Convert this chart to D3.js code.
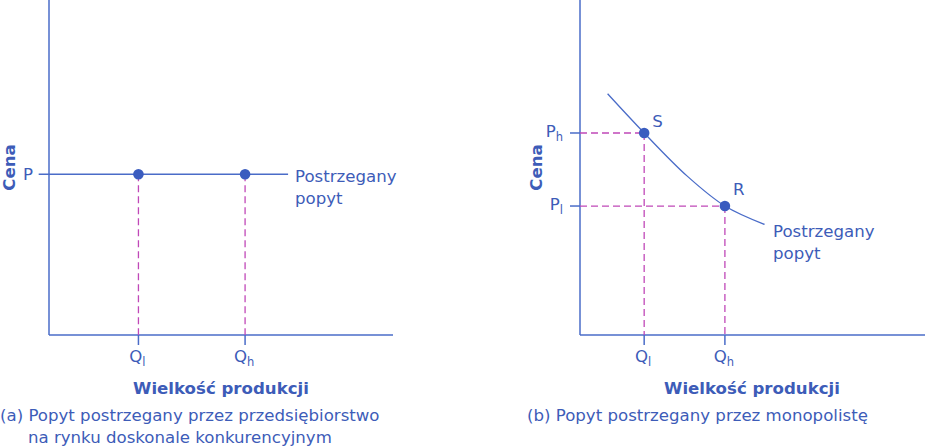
<!DOCTYPE html>
<html><head><meta charset="utf-8">
<script src="https://cdn.jsdelivr.net/npm/d3@7"></script>
<style>body{margin:0;background:#fff}svg{display:block}text{font-family:"DejaVu Sans",sans-serif}</style>
</head><body>
<svg id="c" width="925" height="447"></svg>
<script>
// Panel (a): perfect competition
const aPrice = 4.8;
const aQuantities = [{name:"l", q:2.6},{name:"h", q:5.7}];
const aLine = [-0.3, 6.95];
// Panel (b): monopoly
const bPoints = [{name:"S", q:1.86, p:6.03, pl:"h", ql:"l"},{name:"R", q:4.2, p:3.85, pl:"l", ql:"h"}];
const bCurve = [[0.8,7.2],[1.86,6.03],[3.1,4.75],[4.2,3.85],[5.35,3.3]];
const labels = {y:"Cena", x:"Wielkość produkcji", demand:["Postrzegany","popyt"],
  capA:["(a) Popyt postrzegany przez przedsiębiorstwo","na rynku doskonale konkurencyjnym"],
  capB:["(b) Popyt postrzegany przez monopolistę"]};

const AX="#4a6cc8", DOT="#3a5cbf", TXT="#3d5cb8", PINK="#c048b8", FS=16.6;
const svg=d3.select("#c");

function qLabel(g,x,y,sub,main){
  const t=g.append("text").attr("x",x).attr("y",y).attr("text-anchor","middle").attr("fill",TXT).attr("font-size",FS);
  t.append("tspan").text(main);
  t.append("tspan").attr("font-size",11.5).attr("dy",4).text(sub);
}

// ---- panel a
{
  const x=d3.scaleLinear().domain([0,10]).range([49,393]);
  const y=d3.scaleLinear().domain([0,10]).range([335,0]);
  const g=svg.append("g");
  g.append("line").attr("x1",x(0)).attr("x2",x(0)).attr("y1",y(10)).attr("y2",y(0)).attr("stroke",AX).attr("stroke-width",1.5);
  g.append("line").attr("x1",x(0)).attr("x2",x(10)).attr("y1",y(0)).attr("y2",y(0)).attr("stroke",AX).attr("stroke-width",1.5);
  g.append("line").attr("x1",x(aLine[0])).attr("x2",x(aLine[1])).attr("y1",y(aPrice)).attr("y2",y(aPrice)).attr("stroke",AX).attr("stroke-width",1.5);
  aQuantities.forEach(d=>{
    g.append("line").attr("x1",x(d.q)).attr("x2",x(d.q)).attr("y1",y(aPrice)).attr("y2",y(0)).attr("stroke",PINK).attr("stroke-width",1.3).attr("stroke-dasharray","7,4");
    g.append("line").attr("x1",x(d.q)).attr("x2",x(d.q)).attr("y1",y(0)).attr("y2",y(0)+10).attr("stroke",AX).attr("stroke-width",1.5);
    g.append("circle").attr("cx",x(d.q)).attr("cy",y(aPrice)).attr("r",5.3).attr("fill",DOT);
    qLabel(g,x(d.q)-1,y(0)+27,d.name,"Q");
  });
  g.append("text").attr("x",x(0)-16).attr("y",y(aPrice)+6).attr("text-anchor","end").attr("fill",TXT).attr("font-size",FS).text("P");
  g.append("text").attr("transform",`translate(15,${y(5)}) rotate(-90)`).attr("text-anchor","middle").attr("fill",TXT).attr("font-size",FS).attr("font-weight","bold").text(labels.y);
  g.append("text").attr("x",221).attr("y",394).attr("text-anchor","middle").attr("fill",TXT).attr("font-size",FS).attr("font-weight","bold").text(labels.x);
  labels.demand.forEach((s,i)=>g.append("text").attr("x",295).attr("y",182+i*22).attr("fill",TXT).attr("font-size",FS).text(s));
  g.append("text").attr("x",0).attr("y",421).attr("fill",TXT).attr("font-size",FS).text(labels.capA[0]);
  g.append("text").attr("x",28).attr("y",443).attr("fill",TXT).attr("font-size",FS).text(labels.capA[1]);
}
// ---- panel b
{
  const x=d3.scaleLinear().domain([0,10]).range([580,925]);
  const y=d3.scaleLinear().domain([0,10]).range([335,0]);
  const g=svg.append("g");
  g.append("line").attr("x1",x(0)).attr("x2",x(0)).attr("y1",y(10)).attr("y2",y(0)).attr("stroke",AX).attr("stroke-width",1.5);
  g.append("line").attr("x1",x(0)).attr("x2",x(10)).attr("y1",y(0)).attr("y2",y(0)).attr("stroke",AX).attr("stroke-width",1.5);
  bPoints.forEach(d=>{
    g.append("line").attr("x1",x(0)).attr("x2",x(d.q)).attr("y1",y(d.p)).attr("y2",y(d.p)).attr("stroke",PINK).attr("stroke-width",1.3).attr("stroke-dasharray","7,4");
    g.append("line").attr("x1",x(d.q)).attr("x2",x(d.q)).attr("y1",y(d.p)).attr("y2",y(0)).attr("stroke",PINK).attr("stroke-width",1.3).attr("stroke-dasharray","7,4");
    g.append("line").attr("x1",x(0)-10).attr("x2",x(0)).attr("y1",y(d.p)).attr("y2",y(d.p)).attr("stroke",AX).attr("stroke-width",1.5);
    g.append("line").attr("x1",x(d.q)).attr("x2",x(d.q)).attr("y1",y(0)).attr("y2",y(0)+10).attr("stroke",AX).attr("stroke-width",1.5);
  });
  g.append("path").attr("d",d3.line().x(d=>x(d[0])).y(d=>y(d[1])).curve(d3.curveCatmullRom)(bCurve)).attr("fill","none").attr("stroke",AX).attr("stroke-width",1.3);
  bPoints.forEach((d,i)=>{
    g.append("circle").attr("cx",x(d.q)).attr("cy",y(d.p)).attr("r",5.3).attr("fill",DOT);
    g.append("text").attr("x",x(d.q)+8).attr("y",y(d.p)-(i===0?6:11)).attr("fill",TXT).attr("font-size",FS).text(d.name);
    const t=g.append("text").attr("x",x(0)-17).attr("y",y(d.p)+4).attr("text-anchor","end").attr("fill",TXT).attr("font-size",FS);
    t.append("tspan").text("P");
    t.append("tspan").attr("font-size",11.5).attr("dy",4).text(d.pl);
    qLabel(g,x(d.q)-1,y(0)+27,d.ql,"Q");
  });
  g.append("text").attr("transform",`translate(542,${y(5)}) rotate(-90)`).attr("text-anchor","middle").attr("fill",TXT).attr("font-size",FS).attr("font-weight","bold").text(labels.y);
  g.append("text").attr("x",752).attr("y",394).attr("text-anchor","middle").attr("fill",TXT).attr("font-size",FS).attr("font-weight","bold").text(labels.x);
  labels.demand.forEach((s,i)=>g.append("text").attr("x",773).attr("y",237+i*22).attr("fill",TXT).attr("font-size",FS).text(s));
  g.append("text").attr("x",527).attr("y",421).attr("fill",TXT).attr("font-size",FS).text(labels.capB[0]);
}
</script>
</body></html>
